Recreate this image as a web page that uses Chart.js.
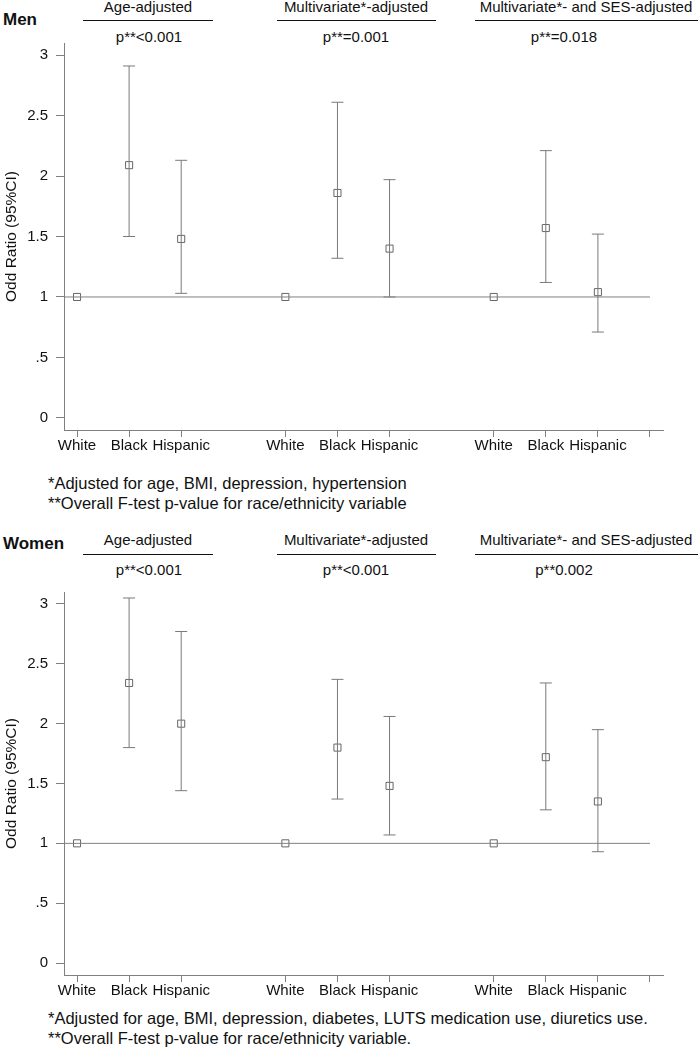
<!DOCTYPE html>
<html><head><meta charset="utf-8">
<script src="https://cdn.jsdelivr.net/npm/chart.js@4.4.1/dist/chart.umd.min.js"></script>
<style>
body{margin:0;background:#fff;width:698px;height:1048px;position:relative;overflow:hidden;font-family:'Liberation Sans',Arial,sans-serif;color:#111}
.t{position:absolute;white-space:nowrap;font-size:15px;line-height:18px;transform:translate(-50%,-50%)}
.l{position:absolute;white-space:nowrap;font-size:15px;line-height:18px;transform:translateY(-50%)}
.b{font-weight:bold;font-size:17px}
.n{font-size:16.5px;line-height:20px}
.hr{position:absolute;height:1px;background:#111}
.cw{position:absolute;left:0;width:698px}
</style></head><body>
<div id="root"></div>
<div class="cw" style="top:0;height:460px"><canvas id="men"></canvas></div>
<div class="cw" style="top:549px;height:456px"><canvas id="women"></canvas></div>
<script>
// ---- data ----
const races = ['White', 'Black', 'Hispanic'];
const models = ['Age-adjusted', 'Multivariate*-adjusted', 'Multivariate*- and SES-adjusted'];
const xPositions = [1, 2, 3, 5, 6, 7, 9, 10, 11];
const extraTick = 12;
const yTicks = [0, 0.5, 1, 1.5, 2, 2.5, 3];
const refValue = 1;

const menOR = [1, 2.09, 1.48, 1, 1.86, 1.40, 1, 1.57, 1.04];
const menLo = [null, 1.50, 1.03, null, 1.32, 1.00, null, 1.12, 0.71];
const menHi = [null, 2.91, 2.13, null, 2.61, 1.97, null, 2.21, 1.52];
const menP = ['p**<0.001', 'p**=0.001', 'p**=0.018'];
const menNotes = ['*Adjusted for age, BMI, depression, hypertension', '**Overall F-test p-value for race/ethnicity variable'];

const womenOR = [1, 2.34, 2.00, 1, 1.80, 1.48, 1, 1.72, 1.35];
const womenLo = [null, 1.80, 1.44, null, 1.37, 1.07, null, 1.28, 0.93];
const womenHi = [null, 3.05, 2.77, null, 2.37, 2.06, null, 2.34, 1.95];
const womenP = ['p**<0.001', 'p**<0.001', 'p**0.002'];
const womenNotes = ['*Adjusted for age, BMI, depression, diabetes, LUTS medication use, diuretics use.', '**Overall F-test p-value for race/ethnicity variable.'];

// ---- html text ----
const root = document.getElementById('root');
function add(cls, text, x, y) {
  const d = document.createElement('div');
  d.className = cls; d.textContent = text;
  d.style.left = x + 'px'; d.style.top = y + 'px';
  root.appendChild(d);
}
function hr(x1, x2, y) {
  const d = document.createElement('div');
  d.className = 'hr';
  d.style.left = x1 + 'px'; d.style.top = y + 'px'; d.style.width = (x2 - x1) + 'px';
  root.appendChild(d);
}
const headX = [148, 356, 586];
const pX = [149, 356, 564];
const lineX = [[83, 213], [277, 436], [475, 698]];
function headers(title, pv, notes, yHead, yLine, yP, yTitle, yNotes) {
  add('l b', title, 3, yTitle);
  models.forEach((m, i) => {
    add('t', m, headX[i], yHead);
    hr(lineX[i][0], lineX[i][1], yLine);
    add('t', pv[i], pX[i], yP);
  });
  notes.forEach((n, i) => add('l n', n, 48, yNotes[i]));
}
headers('Men', menP, menNotes, 7, 20, 37, 20, [483, 503]);
headers('Women', womenP, womenNotes, 540, 554, 570, 544, [1018, 1038]);

// ---- charts ----
const grey = '#808080';
const fontFam = "'Liberation Sans', Arial, sans-serif";
function labelFor(v) {
  const i = xPositions.indexOf(v);
  return i < 0 ? '' : races[i % 3];
}
function makeChart(id, or, lo, hi) {
  const pts = xPositions.map((x, i) => ({ x: x, y: or[i] }));
  const segs = [], caps = [];
  xPositions.forEach((x, i) => {
    if (lo[i] == null) return;
    segs.push({ x: x, y: lo[i] }, { x: x, y: hi[i] }, { x: x, y: null });
    caps.push({ x: x, y: lo[i] }, { x: x, y: hi[i] });
  });
  const xMin = 0.75, xMax = 12.25;
  new Chart(document.getElementById(id), {
    type: 'scatter',
    data: {
      datasets: [
        { data: [{ x: xMin, y: refValue }, { x: extraTick, y: refValue }], showLine: true, borderColor: grey, borderWidth: 1, pointRadius: 0 },
        { data: segs, showLine: true, spanGaps: false, borderColor: '#7a7a7a', borderWidth: 1, pointRadius: 0 },
        { data: caps, showLine: false, pointStyle: 'line', pointRadius: 6, borderColor: '#7a7a7a', borderWidth: 1 },
        { data: pts, showLine: false, pointStyle: 'rect', pointRadius: 5, backgroundColor: '#fff', borderColor: '#666', borderWidth: 1 }
      ]
    },
    options: {
      responsive: true, maintainAspectRatio: false, animation: false,
      layout: { padding: { top: 43, right: 35, left: 0, bottom: 0 } },
      plugins: { legend: { display: false }, tooltip: { enabled: false } },
      events: [],
      scales: {
        x: {
          type: 'linear', min: xMin, max: xMax,
          afterBuildTicks: s => { s.ticks = xPositions.concat([extraTick]).map(v => ({ value: v })); },
          afterFit: s => { s.height = 30; },
          ticks: { callback: v => labelFor(v), font: { family: fontFam, size: 15 }, color: '#111', padding: 0, maxRotation: 0, autoSkip: false },
          grid: { drawOnChartArea: false, tickLength: 7, color: grey },
          border: { color: grey }
        },
        y: {
          min: -0.1, max: 3.1,
          afterBuildTicks: s => { s.ticks = yTicks.map(v => ({ value: v })); },
          afterFit: s => { s.width = 64; },
          ticks: { callback: v => String(v).replace(/^0\./, '.'), font: { family: fontFam, size: 15 }, color: '#111', padding: 8 },
          grid: { drawOnChartArea: false, tickLength: 8, color: grey },
          border: { color: grey },
          title: { display: true, text: 'Odd Ratio (95%CI)', font: { family: fontFam, size: 15.5 }, color: '#111', padding: { top: 2, bottom: 0 } }
        }
      }
    }
  });
}
makeChart('men', menOR, menLo, menHi);
makeChart('women', womenOR, womenLo, womenHi);
</script>
</body></html>
